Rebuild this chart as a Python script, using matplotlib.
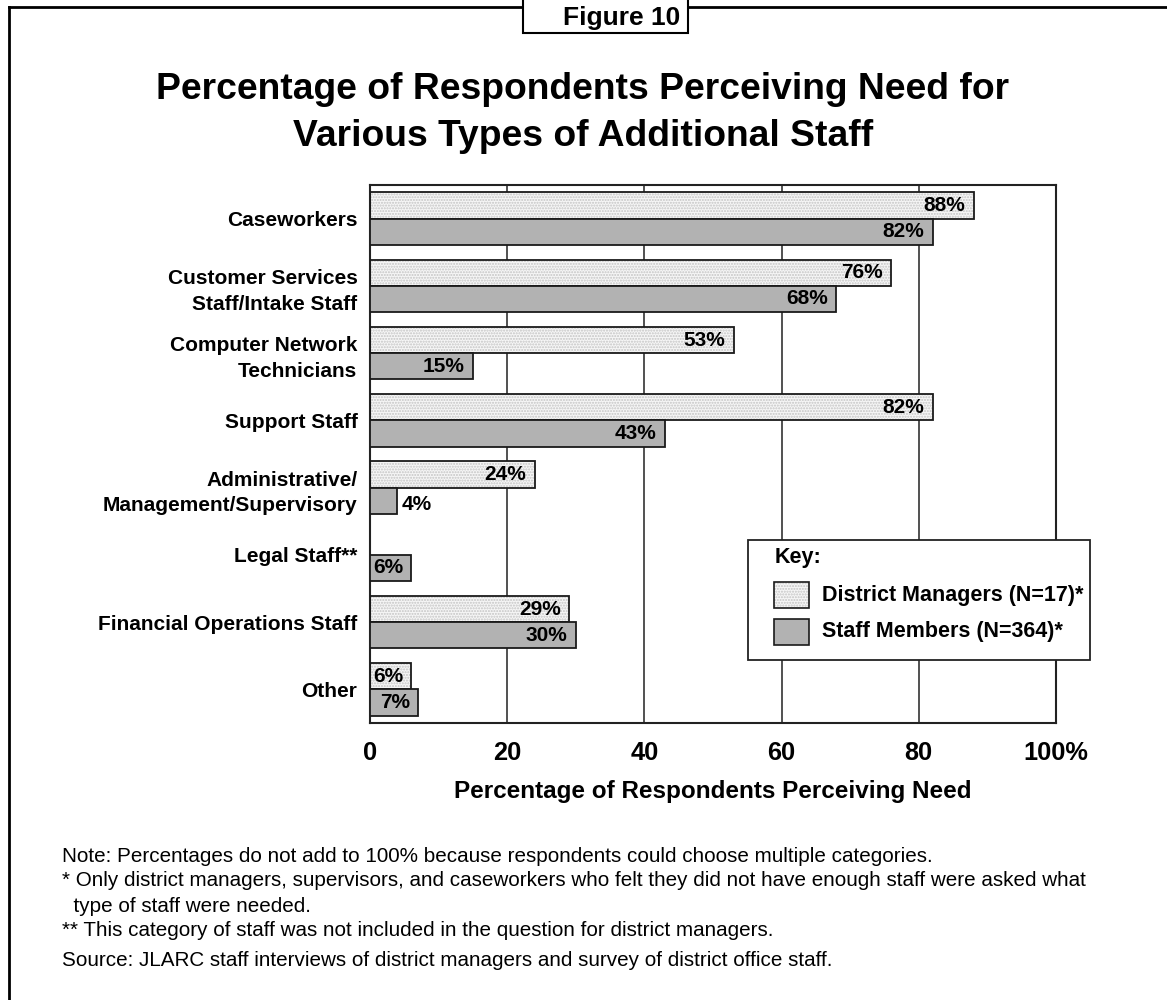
import numpy as np
import matplotlib
matplotlib.use('Agg')
import matplotlib.pyplot as plt
from matplotlib.patches import Rectangle
from matplotlib.lines import Line2D

# Chart data
categories = ['Caseworkers', 'Customer Services\nStaff/Intake Staff', 'Computer Network\nTechnicians',
              'Support Staff', 'Administrative/\nManagement/Supervisory', 'Legal Staff**',
              'Financial Operations Staff', 'Other']
district_managers = [88, 76, 53, 82, 24, np.nan, 29, 6]
staff_members = [82, 68, 15, 43, 4, 6, 30, 7]
series_names = ['District Managers (N=17)*', 'Staff Members (N=364)*']
x_ticks = [0, 20, 40, 60, 80, 100]
x_tick_labels = ['0', '20', '40', '60', '80', '100%']

title = 'Percentage of Respondents Perceiving Need for\nVarious Types of Additional Staff'
x_label = 'Percentage of Respondents Perceiving Need'
notes = ['Note: Percentages do not add to 100% because respondents could choose multiple categories.',
         '* Only district managers, supervisors, and caseworkers who felt they did not have enough staff were asked what',
         '  type of staff were needed.',
         '** This category of staff was not included in the question for district managers.']
source = 'Source: JLARC staff interviews of district managers and survey of district office staff.'

plt.rcParams['font.family'] = ['Liberation Sans', 'DejaVu Sans']

W, H = 1167, 1000
fig = plt.figure(figsize=(W / 100, H / 100), dpi=100)


def px(x, y):
    # pixel coords (from top-left) to figure fraction
    return x / W, 1 - y / H


# Plot area
left, top = px(370, 185)
right, bottom = px(1056, 723)
ax = fig.add_axes([left, bottom, right - left, top - bottom])

y = np.arange(len(categories))
h = 0.39
dm_face = '#f6f6f6'
dm_dots = '#c4c4c4'
sm_face = '#b2b2b2'
edge = '#1a1a1a'

# District manager bars: dotted fill + dark outline
ax.barh(y - h / 2, district_managers, height=h, color=dm_face, edgecolor=dm_dots,
        hatch='......', linewidth=0, zorder=2)
ax.barh(y - h / 2, district_managers, height=h, fill=False, edgecolor=edge, linewidth=1.3, zorder=3)
ax.barh(y + h / 2, staff_members, height=h, color=sm_face, edgecolor=edge, linewidth=1.3, zorder=3)

# Value labels
for yi, v in zip(y, district_managers):
    if not np.isnan(v):
        ax.text(v - 1.2, yi - h / 2, f'{v:.0f}%', ha='right', va='center',
                fontsize=15, fontweight='bold', zorder=4)
for yi, v in zip(y, staff_members):
    if v < 5:
        ax.text(v + 0.6, yi + h / 2 + 0.05, f'{v:.0f}%', ha='left', va='center',
                fontsize=15, fontweight='bold', zorder=4)
    else:
        ax.text(v - 1.2, yi + h / 2, f'{v:.0f}%', ha='right', va='center',
                fontsize=15, fontweight='bold', zorder=4)

ax.set_xlim(0, 100)
ax.set_ylim(len(categories) - 0.5, -0.5)
ax.set_xticks(x_ticks)
ax.set_xticklabels(x_tick_labels, fontsize=18.3, fontweight='bold')
ax.set_yticks(y)
ax.set_yticklabels(categories, fontsize=15, fontweight='bold')
for lbl in ax.get_yticklabels():
    lbl.set_linespacing(1.45)
ax.tick_params(axis='x', length=0, pad=13)
ax.tick_params(axis='y', length=0, pad=9)
ax.xaxis.grid(True, color='#222222', linewidth=1.1, zorder=1)
ax.set_axisbelow(True)
for s in ax.spines.values():
    s.set_linewidth(1.5)
    s.set_color('#222222')
ax.set_xlabel(x_label, fontsize=17.5, fontweight='bold', labelpad=11)

# Key box (drawn in figure pixels)
kx0, ky0 = px(748, 660)
kx1, ky1 = px(1090, 540)
fig.add_artist(Rectangle((kx0, ky0), kx1 - kx0, ky1 - ky0, transform=fig.transFigure,
                         facecolor='white', edgecolor='#222222', linewidth=1.3, zorder=5))
fx, fy = px(775, 558)
fig.text(fx, fy, 'Key:', ha='left', va='center', fontsize=15.5, fontweight='bold', zorder=6)
for i, (name, yc) in enumerate(zip(series_names, [595, 632])):
    hx0, hy0 = px(774, yc + 13)
    hx1, hy1 = px(809, yc - 13)
    if i == 0:
        fig.add_artist(Rectangle((hx0, hy0), hx1 - hx0, hy1 - hy0, transform=fig.transFigure,
                                 facecolor=dm_face, edgecolor=dm_dots, hatch='......',
                                 linewidth=0, zorder=6))
        fig.add_artist(Rectangle((hx0, hy0), hx1 - hx0, hy1 - hy0, transform=fig.transFigure,
                                 fill=False, edgecolor=edge, linewidth=1.2, zorder=7))
    else:
        fig.add_artist(Rectangle((hx0, hy0), hx1 - hx0, hy1 - hy0, transform=fig.transFigure,
                                 facecolor=sm_face, edgecolor=edge, linewidth=1.2, zorder=6))
    tx, ty = px(822, yc)
    fig.text(tx, ty, name, ha='left', va='center', fontsize=15.5, fontweight='bold', zorder=7)

# Title
tx, ty = px(583, 113)
fig.text(tx, ty, title, ha='center', va='center', fontsize=26.8, fontweight='bold', linespacing=1.42)

# Footnotes
for i, line in enumerate(notes):
    fx, fy = px(62, [856, 881, 906, 930][i])
    fig.text(fx, fy, line, ha='left', va='center', fontsize=14.9)
sx, sy = px(62, 961)
fig.text(sx, sy, source, ha='left', va='center', fontsize=14.9)

# Outer frame and figure number box
fig.add_artist(Line2D([9 / W, 1], [1 - 7 / H, 1 - 7 / H], color='black', linewidth=2))
fig.add_artist(Line2D([9 / W, 9 / W], [1 - 7 / H, 0], color='black', linewidth=2))
bx0, by0 = px(523, 33)
bx1, by1 = px(688, -5)
fig.add_artist(Rectangle((bx0, by0), bx1 - bx0, by1 - by0, transform=fig.transFigure,
                         facecolor='white', edgecolor='black', linewidth=1.5, zorder=5))
fx, fy = px(680, 25)
fig.text(fx, fy, 'Figure 10', ha='right', va='baseline', fontsize=19, fontweight='bold', zorder=6)

fig.savefig('out.png', dpi=100)
